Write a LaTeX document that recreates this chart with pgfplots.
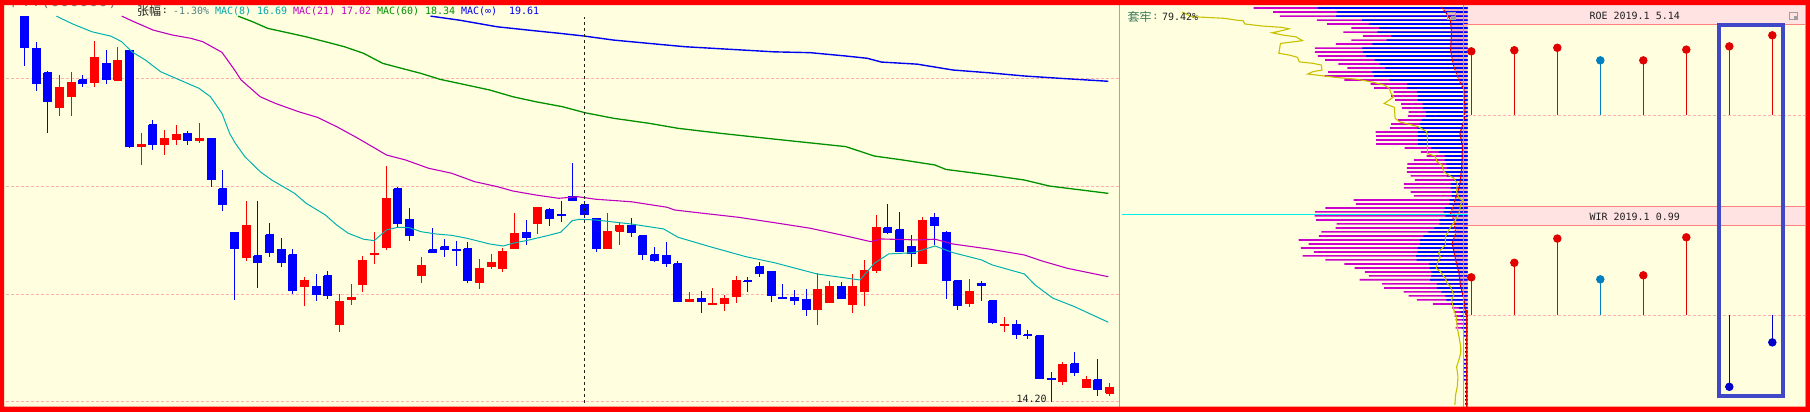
\documentclass[border=0pt]{standalone}
\usepackage{pgfplots}
\usepackage{pgfplotstable}
\pgfplotsset{compat=1.18}
\usepackage{fontspec}
\newfontfamily\mono{DejaVu Sans Mono}
\newfontfamily\cjk{Noto Sans CJK SC}
\definecolor{bg}{RGB}{255,255,224}
\definecolor{frame}{RGB}{255,0,0}
\definecolor{pinkline}{RGB}{255,128,128}
\definecolor{gridc}{RGB}{255,176,176}
\definecolor{kred}{RGB}{255,0,0}
\definecolor{kblue}{RGB}{0,0,255}
\definecolor{ma8}{RGB}{0,176,176}
\definecolor{ma21}{RGB}{192,0,192}
\definecolor{ma60}{RGB}{0,144,0}
\definecolor{mainf}{RGB}{0,0,240}
\definecolor{pmag}{RGB}{204,0,204}
\definecolor{pblue}{RGB}{0,0,255}
\definecolor{pfill}{RGB}{242,182,182}
\definecolor{yel}{RGB}{200,192,0}
\definecolor{cyanl}{RGB}{0,240,240}
\definecolor{band}{RGB}{255,226,226}
\definecolor{lred}{RGB}{224,0,0}
\definecolor{tealc}{RGB}{0,128,192}
\definecolor{dblue}{RGB}{0,0,200}
\definecolor{hbox}{RGB}{64,72,200}
\definecolor{txt}{RGB}{32,32,32}
\definecolor{txgray}{RGB}{80,128,128}
\definecolor{taogreen}{RGB}{60,120,90}
\definecolor{t8}{RGB}{0,168,168}

% candles: index, open, high, low, close
\pgfplotstableread{
k o h l c
1 19.970 19.970 19.112 19.419
2 19.397 19.517 18.695 18.811
3 18.994 19.028 18.014 18.514
4 18.412 18.956 18.281 18.756
5 18.607 19.011 18.281 18.839
6 18.877 18.956 18.761 18.811
7 18.827 19.529 18.751 19.260
8 19.158 19.379 18.806 18.884
9 18.867 19.431 18.856 19.209
10 19.379 19.402 17.777 17.793
11 17.793 18.004 17.511 17.835
12 18.137 18.217 17.745 17.835
13 17.824 18.057 17.667 17.930
14 17.903 18.137 17.824 17.993
15 18.009 18.041 17.815 17.887
16 17.887 18.164 17.855 17.930
17 17.914 17.914 17.175 17.281
18 17.140 17.430 16.814 16.903
19 16.501 16.501 15.544 16.259
20 16.131 16.959 16.088 16.589
21 16.155 16.959 15.708 16.059
22 16.457 16.632 16.145 16.202
23 16.241 16.414 16.003 16.059
24 16.169 16.255 15.618 15.673
25 15.722 15.858 15.461 15.802
26 15.718 15.900 15.530 15.611
27 15.872 15.942 15.558 15.597
28 15.204 15.621 15.110 15.512
29 15.544 15.760 15.475 15.567
30 15.750 16.155 15.653 16.083
31 16.173 16.501 16.045 16.188
32 16.274 17.491 16.245 16.989
33 17.140 17.170 16.570 16.632
34 16.691 16.854 16.375 16.447
35 15.876 16.141 15.778 16.013
36 16.241 16.560 16.202 16.202
37 16.284 16.399 16.145 16.245
38 16.241 16.370 16.017 16.227
39 16.259 16.356 15.778 15.802
40 15.778 16.112 15.694 15.971
41 16.003 16.184 15.966 16.055
42 15.975 16.265 15.932 16.212
43 16.259 16.780 16.259 16.472
44 16.501 16.677 16.317 16.418
45 16.622 16.869 16.472 16.869
46 16.825 16.854 16.589 16.696
47 16.765 16.959 16.651 16.740
48 17.030 17.538 16.963 16.963
49 16.899 16.959 16.706 16.754
50 16.706 16.706 16.216 16.259
51 16.259 16.780 16.259 16.515
52 16.515 16.628 16.317 16.589
53 16.589 16.706 16.432 16.491
54 16.443 16.443 16.102 16.173
55 16.169 16.284 16.073 16.083
56 16.155 16.356 16.003 16.045
57 16.041 16.083 15.516 15.516
58 15.516 15.649 15.516 15.540
59 15.553 15.663 15.365 15.516
60 15.471 15.704 15.471 15.489
61 15.489 15.611 15.389 15.553
62 15.584 15.876 15.502 15.802
63 15.802 15.858 15.649 15.788
64 15.999 16.069 15.862 15.904
65 15.928 15.928 15.516 15.597
66 15.575 15.760 15.558 15.558
67 15.575 15.677 15.471 15.530
68 15.540 15.690 15.321 15.403
69 15.403 15.910 15.200 15.690
70 15.502 15.806 15.502 15.718
71 15.718 15.788 15.558 15.558
72 15.475 15.900 15.365 15.718
73 15.649 16.102 15.461 15.942
74 15.946 16.751 15.914 16.560
75 16.560 16.914 16.477 16.501
76 16.530 16.795 16.216 16.216
77 16.284 16.457 16.003 16.188
78 16.045 16.717 16.045 16.662
79 16.721 16.780 16.313 16.603
80 16.501 16.520 15.558 15.802
81 15.802 15.802 15.403 15.461
82 15.489 15.830 15.448 15.649
83 15.764 15.806 15.530 15.736
84 15.526 15.526 15.213 15.231
85 15.186 15.303 15.110 15.200
86 15.200 15.263 15.017 15.070
87 15.066 15.129 15.017 15.053
88 15.053 15.053 14.495 14.495
89 14.495 14.581 14.200 14.483
90 14.457 14.715 14.419 14.672
91 14.685 14.845 14.534 14.568
92 14.380 14.530 14.380 14.483
93 14.483 14.754 14.280 14.355
94 14.310 14.437 14.280 14.380
}\candles

\pgfplotstableread{
k p
3.73 19.970
5.13 19.830
6.77 19.695
8.41 19.620
9.33 19.522
10.21 19.350
11.36 19.209
12.67 19.011
14.31 18.872
15.96 18.734
16.94 18.596
17.93 18.325
18.58 18.004
19.07 17.846
19.89 17.636
21.20 17.404
22.19 17.276
23.17 17.175
24.15 17.074
25.14 16.924
26.78 16.751
27.76 16.603
28.75 16.482
30.06 16.395
30.97 16.375
32.03 16.530
33.01 16.570
33.99 16.564
34.99 16.505
36.29 16.472
37.60 16.452
38.91 16.409
40.88 16.327
42.03 16.298
42.85 16.337
44.16 16.381
45.80 16.447
46.95 16.497
47.44 16.578
47.94 16.666
48.59 16.687
49.96 16.677
53.02 16.618
55.78 16.545
57.01 16.423
59.76 16.288
62.82 16.145
65.27 16.059
68.94 15.900
72.61 15.816
73.84 16.051
75.07 16.184
77.21 16.202
79.04 16.298
80.58 16.202
83.02 16.098
83.94 16.027
86.70 15.900
87.61 15.746
89.15 15.563
90.98 15.448
93.89 15.236
}\maE

\pgfplotstableread{
k p
9.33 19.970
10.38 19.870
12.02 19.725
13.66 19.638
15.30 19.580
16.28 19.522
17.92 19.340
18.91 19.068
19.57 18.872
21.20 18.596
22.51 18.488
24.49 18.351
26.12 18.260
27.76 18.110
29.57 17.927
32.03 17.662
33.67 17.584
35.64 17.456
37.60 17.380
39.57 17.251
41.53 17.175
42.85 17.109
44.82 17.049
46.79 17.000
48.43 17.023
49.96 16.985
53.02 16.948
56.08 16.865
56.70 16.825
59.15 16.776
62.21 16.717
65.27 16.637
68.33 16.555
71.39 16.443
73.53 16.361
74.45 16.399
77.51 16.385
79.04 16.395
80.58 16.327
83.64 16.255
86.70 16.169
88.22 16.083
90.37 15.980
93.89 15.862
}\maT

\pgfplotstableread{
k p
19.30 19.970
20.55 19.870
21.86 19.755
23.17 19.695
25.14 19.608
26.78 19.522
28.42 19.436
30.06 19.323
31.70 19.154
33.34 19.068
34.98 18.984
36.61 18.884
38.91 18.789
40.88 18.706
42.85 18.596
44.82 18.514
47.11 18.433
49.04 18.335
51.49 18.244
54.55 18.164
57.00 18.084
60.67 18.004
65.27 17.911
71.39 17.793
73.84 17.647
76.29 17.584
79.04 17.507
79.96 17.440
83.64 17.353
86.70 17.276
88.84 17.185
93.89 17.074
}\maS

\pgfplotstableread{
k p
35.80 19.970
38.26 19.900
41.53 19.782
44.82 19.712
46.90 19.667
49.04 19.620
51.49 19.551
54.55 19.494
57.61 19.436
61.59 19.391
65.27 19.350
68.33 19.333
71.39 19.277
73.23 19.238
74.45 19.175
77.51 19.141
80.58 19.040
83.64 18.995
86.70 18.939
89.76 18.901
93.89 18.851
}\maI

% chip profile: price level, total (magenta) length, blue length
\pgfplotstableread{
p m b
20.112 209.7 146.7
20.041 190.7 128.4
19.970 184.0 129.0
19.900 147.7 103.4
19.830 137.7 96.7
19.760 114.0 86.7
19.690 121.7 88.4
19.621 102.7 75.0
19.552 114.0 79.4
19.483 129.0 93.4
19.414 149.7 103.0
19.346 149.7 102.7
19.278 146.7 99.4
19.210 139.7 91.0
19.142 126.7 85.7
19.074 117.7 81.0
19.007 136.7 93.4
18.940 140.0 91.7
18.873 120.7 76.7
18.806 95.0 59.4
18.740 91.7 59.4
18.674 72.4 49.7
18.608 75.0 48.4
18.542 71.0 49.0
18.477 65.0 44.0
18.412 64.4 44.0
18.347 57.7 40.7
18.282 58.4 40.7
18.218 68.4 45.0
18.154 75.0 46.7
18.090 76.0 49.0
18.026 90.0 48.4
17.962 89.7 48.4
17.899 89.7 48.4
17.836 89.7 48.4
17.773 61.7 35.7
17.710 45.7 28.4
17.648 40.0 22.4
17.586 52.7 22.4
17.524 59.0 20.7
17.462 59.4 20.0
17.400 59.4 21.7
17.339 55.7 20.0
17.278 51.7 13.4
17.217 62.4 16.7
17.156 62.4 16.7
17.095 55.7 15.0
17.035 52.7 15.7
16.975 111.7 17.7
16.915 109.4 17.7
16.855 139.4 22.4
16.796 149.4 23.4
16.737 150.0 21.7
16.678 148.4 27.7
16.619 128.4 27.7
16.560 129.4 32.4
16.502 143.4 38.4
16.444 145.7 43.4
16.386 165.7 46.7
16.328 155.7 46.7
16.270 163.4 49.0
16.213 150.7 49.0
16.156 161.7 50.7
16.099 139.4 50.0
16.042 120.7 37.7
15.985 110.7 37.4
15.929 100.7 35.7
15.873 96.7 35.7
15.817 105.7 36.7
15.761 84.0 30.0
15.705 81.7 30.0
15.650 62.7 25.7
15.595 57.7 21.7
15.540 49.7 20.7
15.485 34.0 16.4
15.430 15.0 8.4
15.376 13.4 6.7
15.322 12.7 6.7
15.268 11.7 5.0
15.214 11.0 4.4
15.160 11.7 5.7
15.107 0 4.4
15.054 0 3.4
15.001 0 2.4
14.948 0 2.4
14.895 0 2.4
14.842 0 2.4
14.790 0 2.4
14.738 0 3.4
14.686 0 3.4
14.634 0 3.4
14.582 0 3.4
14.531 0 3.4
14.480 0 3.4
14.429 0 2.4
14.378 0 2.4
14.327 0 2.4
14.276 0 2.4
14.226 0 2.4
14.176 0 2.4
}\prof

\pgfplotstableread{
L p
0 20.130
26 20.130
25 20.112
21.7 20.041
16.7 19.900
15.7 19.673
16.7 19.379
13.4 19.090
8.4 18.872
3.4 18.706
3.4 18.542
2.5 18.460
3.0 18.244
7.4 18.004
5.0 17.793
5.7 17.481
7.4 17.227
10.0 17.074
12.4 16.974
14.4 16.874
16.7 16.776
13.4 16.677
11.7 16.482
15.0 16.337
11.7 16.098
8.4 15.910
6.7 15.722
3.4 15.540
1.7 15.311
0 15.311
}\pinkarea

\pgfplotstableread{
L p
26 20.130
25 20.112
21.7 20.041
16.7 19.900
15.7 19.673
16.7 19.379
13.4 19.090
8.4 18.872
3.4 18.706
3.4 18.542
2.5 18.460
3.0 18.244
7.4 18.004
5.0 17.793
5.7 17.481
7.4 17.227
10.0 17.074
12.4 16.974
14.4 16.874
16.7 16.776
13.4 16.677
11.7 16.482
15.0 16.337
11.7 16.098
8.4 15.910
6.7 15.722
3.4 15.540
1.7 15.311
}\pinkedge

\pgfplotstableread{
L p
280.0 20.036
270.0 19.958
238.4 19.930
226.7 19.900
220.0 19.888
218.4 19.830
201.7 19.795
181.7 19.772
175.0 19.748
188.4 19.690
191.7 19.678
181.7 19.638
168.4 19.608
161.7 19.540
183.4 19.494
185.0 19.323
175.0 19.294
166.7 19.255
165.0 19.180
151.7 19.153
143.4 19.124
142.7 19.040
151.7 19.011
156.7 18.973
140.0 18.939
128.4 18.917
108.4 18.884
95.0 18.844
81.7 18.789
76.7 18.734
75.0 18.651
72.4 18.596
76.7 18.542
81.7 18.488
75.0 18.444
71.7 18.423
71.0 18.244
66.7 18.190
58.4 18.153
48.4 18.110
40.0 18.030
39.4 17.951
39.4 17.685
31.7 17.647
30.0 17.558
25.0 17.507
23.4 17.404
13.4 17.302
10.0 17.227
10.7 17.099
8.4 17.000
5.0 16.974
6.7 16.899
8.4 16.776
11.7 16.677
15.0 16.603
18.4 16.530
21.7 16.432
21.7 16.313
26.7 16.241
28.4 16.194
26.7 16.145
29.0 16.073
30.7 15.980
26.7 15.932
21.7 15.840
20.0 15.770
16.7 15.722
13.4 15.607
15.7 15.540
13.4 15.403
11.0 15.311
10.0 15.155
8.4 15.044
6.7 14.911
6.7 14.824
9.0 14.715
10.7 14.650
9.4 14.521
10.0 14.393
11.7 14.290
12.4 14.162
}\yelline

\begin{document}
\begin{tikzpicture}
\useasboundingbox (0pt,0pt) rectangle (905pt,-206pt);
% ---------- backgrounds ----------
\begin{scope}[x=0.5pt,y=-0.5pt]
  \fill[bg] (0,0) rectangle (1810,412);
  \fill[band] (1463.3,5) rectangle (1805,24.3);
  \fill[band] (1463.3,206) rectangle (1805,225.3);
\end{scope}

% ---------- main candle panel ----------
\begin{axis}[at={(2pt,-203.35pt)}, anchor=south west, scale only axis,
  width=557.5pt, height=200.85pt, xmin=-0.757, xmax=94.81,
  ymode=log, ymin=14.141, ymax=20.165, hide axis, clip=true]
  \addplot[gridc, dash pattern=on 1.5pt off 1pt, line width=0.5pt] coordinates {(-1,18.90) (96,18.90)};
  \addplot[gridc, dash pattern=on 1.5pt off 1pt, line width=0.5pt] coordinates {(-1,17.182) (96,17.182)};
  \addplot[gridc, dash pattern=on 1.5pt off 1pt, line width=0.5pt] coordinates {(-1,15.62) (96,15.62)};
  \addplot[gridc, dash pattern=on 1.5pt off 1pt, line width=0.5pt] coordinates {(-1,14.20) (96,14.20)};
  \pgfplotstablegetrowsof{\candles}
  \pgfmathtruncatemacro\cN{\pgfplotsretval-1}
  \pgfplotsforeachungrouped \i in {0,...,\cN}{%
    \pgfplotstablegetelem{\i}{k}\of\candles \let\cK\pgfplotsretval
    \pgfplotstablegetelem{\i}{o}\of\candles \let\cO\pgfplotsretval
    \pgfplotstablegetelem{\i}{h}\of\candles \let\cH\pgfplotsretval
    \pgfplotstablegetelem{\i}{l}\of\candles \let\cL\pgfplotsretval
    \pgfplotstablegetelem{\i}{c}\of\candles \let\cC\pgfplotsretval
    \pgfmathsetmacro\cXA{\cK-0.335}%
    \pgfmathsetmacro\cXB{\cK+0.335}%
    \ifdim\cC pt>\cO pt \def\col{kred}\else\def\col{kblue}\fi
    \edef\temp{%
      \noexpand\addplot[\col, line width=0.5pt] coordinates {(\cK,\cL) (\cK,\cH)};%
      \noexpand\addplot[draw=\col, fill=\col, line width=0.5pt] coordinates {(\cXA,\cO) (\cXB,\cO) (\cXB,\cC) (\cXA,\cC) (\cXA,\cO)};%
    }\temp
  }
  \addplot[ma8, line width=0.5pt] table[x=k,y=p] {\maE};
  \addplot[ma21, line width=0.55pt] table[x=k,y=p] {\maT};
  \addplot[ma60, line width=0.65pt] table[x=k,y=p] {\maS};
  \addplot[mainf, line width=0.7pt] table[x=k,y=p] {\maI};
  \addplot[txt, dash pattern=on 1.5pt off 1.5pt, line width=0.5pt] coordinates {(49,14.19) (49,19.96)};
\end{axis}

% ---------- chip distribution panel ----------
\begin{axis}[at={(559.5pt,-203.35pt)}, anchor=south west, scale only axis,
  width=170.85pt, height=200.85pt, x dir=reverse, xmin=0, xmax=341.7,
  ymode=log, ymin=14.141, ymax=20.165, hide axis, clip=true]
  \addplot[fill=pfill, draw=none] table[x=L,y=p] {\pinkarea};
  \addplot[xbar, bar width=0.85pt, bar shift=0pt, fill=pmag, draw=none] table[x=m,y=p] {\prof};
  \addplot[xbar, bar width=0.85pt, bar shift=0pt, fill=pblue, draw=none] table[x=b,y=p] {\prof};
  \addplot[lred, line width=0.5pt, dash pattern=on 1.5pt off 0.5pt] table[x=L,y=p] {\pinkedge};
  \addplot[lred, line width=0.6pt] coordinates {(0.5,15.403) (0.5,14.141)};
  \addplot[yel, line width=0.55pt] table[x=L,y=p] {\yelline};
  \addplot[cyanl, line width=0.6pt] coordinates {(339,16.761) (0,16.761)};
\end{axis}

% ---------- ROE lollipops ----------
\begin{axis}[at={(731.65pt,-103pt)}, anchor=south west, scale only axis,
  width=170.85pt, height=90.85pt, xmin=0.814, xmax=8.760,
  ymin=-5.829, ymax=5.848, hide axis, clip=false]
  \addplot[gridc, dash pattern=on 1.5pt off 1pt, line width=0.4pt] coordinates {(0.814,0) (8.760,0)};
  \addplot[ycomb, lred, line width=0.5pt, mark=*, mark size=1.85pt, mark options={fill=lred, draw=lred}]
    coordinates {(1,4.11) (2,4.18) (3,4.34) (5,3.53) (6,4.22) (7,4.43) (8,5.14)};
  \addplot[ycomb, tealc, line width=0.5pt, mark=*, mark size=1.85pt, mark options={fill=tealc, draw=tealc}]
    coordinates {(4,3.53)};
\end{axis}

% ---------- WIR lollipops ----------
\begin{axis}[at={(731.65pt,-203pt)}, anchor=south west, scale only axis,
  width=170.85pt, height=90.35pt, xmin=0.814, xmax=8.760,
  ymin=-2.245, ymax=2.228, hide axis, clip=false]
  \addplot[gridc, dash pattern=on 1.5pt off 1pt, line width=0.4pt] coordinates {(0.814,0) (8.760,0)};
  \addplot[ycomb, lred, line width=0.5pt, mark=*, mark size=1.85pt, mark options={fill=lred, draw=lred}]
    coordinates {(1,0.94) (2,1.30) (3,1.90) (5,0.99) (6,1.93)};
  \addplot[ycomb, tealc, line width=0.5pt, mark=*, mark size=1.85pt, mark options={fill=tealc, draw=tealc}]
    coordinates {(4,0.89)};
  \addplot[ycomb, dblue, line width=0.5pt, mark=*, mark size=1.85pt, mark options={fill=dblue, draw=dblue}]
    coordinates {(7,-1.77) (8,-0.67)};
\end{axis}

% ---------- overlays: borders, texts ----------
\begin{scope}[x=0.5pt,y=-0.5pt]
  \draw[pinkline, line width=0.5pt] (1119.5,5) -- (1119.5,407);
  \draw[pinkline, line width=0.5pt] (1463.3,5) -- (1463.3,407);
  \draw[pinkline, line width=0.5pt] (1805,5) -- (1805,407);
  \draw[pinkline, line width=0.5pt] (1463.3,24.3) -- (1805,24.3);
  \draw[pinkline, line width=0.5pt] (1463.3,206) -- (1805,206);
  \draw[pinkline, line width=0.5pt] (1463.3,225.3) -- (1805,225.3);
  % highlight box
  \draw[hbox, line width=2pt] (1718.7,24.7) rectangle (1783,395.7);
  % icons
  \draw[gray!75, line width=0.5pt] (1789.5,12) rectangle (1797.5,19.5);
  \fill[gray!75] (1793.5,15.5) rectangle (1797.5,19.5);
  \draw[gray!75, line width=0.5pt] (1447,12) rectangle (1455,19.5);
  \fill[gray!75] (1451,15.5) rectangle (1455,19.5);
  % header texts of candle panel
  \begin{scope}[every node/.style={inner sep=0pt, anchor=west}]
    \node[text=gray] at (5,0.5) {\fontsize{8pt}{8pt}\selectfont{\cjk 中}\mono TT(000000)};
    \node[text=txt] at (136.7,11) {\fontsize{6pt}{6pt}\selectfont\cjk 张幅};
    \node[text=txt] at (161.5,11) {\fontsize{5pt}{6pt}\selectfont\mono :};
    \node[text=txgray] at (172.7,11) {\fontsize{5pt}{6pt}\selectfont\mono -1.30\%};
    \node[text=t8] at (214.7,11) {\fontsize{5pt}{6pt}\selectfont\mono MAC(8)};
    \node[text=t8] at (256.7,11) {\fontsize{5pt}{6pt}\selectfont\mono 16.69};
    \node[text=ma21] at (292.7,11) {\fontsize{5pt}{6pt}\selectfont\mono MAC(21)};
    \node[text=ma21] at (340.7,11) {\fontsize{5pt}{6pt}\selectfont\mono 17.02};
    \node[text=ma60] at (376.7,11) {\fontsize{5pt}{6pt}\selectfont\mono MAC(60)};
    \node[text=ma60] at (424.7,11) {\fontsize{5pt}{6pt}\selectfont\mono 18.34};
    \node[text=mainf] at (460.7,11) {\fontsize{5pt}{6pt}\selectfont\mono MAC(∞)};
    \node[text=mainf] at (508.7,11) {\fontsize{5pt}{6pt}\selectfont\mono 19.61};
    \node[text=taogreen] at (1127.3,17.3) {\fontsize{6pt}{6pt}\selectfont\cjk 套牢};
    \node[text=taogreen] at (1152,17.3) {\fontsize{5pt}{6pt}\selectfont\mono :};
    \node[text=txt] at (1161.7,17.3) {\fontsize{5pt}{6pt}\selectfont\mono 79.42\%};
  \end{scope}
  \node[inner sep=0pt, anchor=east, text=txt] at (1047,398.6) {\fontsize{5pt}{6pt}\selectfont\mono 14.20};
  \node[inner sep=0pt, text=txt] at (1634.7,16) {\fontsize{5pt}{6pt}\selectfont\mono ROE 2019.1 5.14};
  \node[inner sep=0pt, text=txt] at (1634.7,217) {\fontsize{5pt}{6pt}\selectfont\mono WIR 2019.1 0.99};
  % outer red frame
  \fill[frame, even odd rule] (0,0) rectangle (1810,412) (4,5) rectangle (1806,406.7);
\end{scope}
\end{tikzpicture}
\end{document}
